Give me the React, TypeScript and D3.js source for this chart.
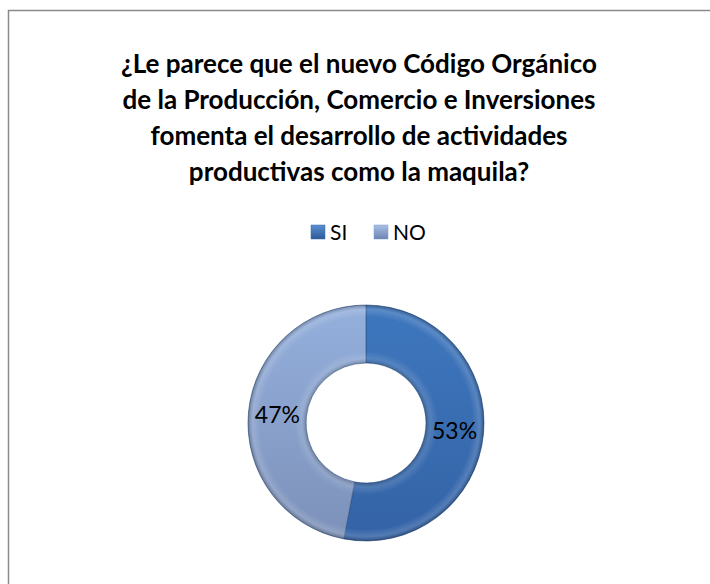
import React from "react";
import * as d3 from "d3";

const categories = ["SI", "NO"];
const values = [53, 47];
const titleLines = [
  "¿Le parece que el nuevo Código Orgánico",
  "de la Producción, Comercio e Inversiones",
  "fomenta el desarrollo de actividades",
  "productivas como la maquila?",
];

const W = 710;
const H = 584;
const cx = 366;
const cy = 423;
const outerR = 118;
const innerR = 60;
const FONT = "Lato, 'Open Sans', sans-serif";

export default function App() {
  const pie = d3.pie<number>().sort(null).value((d) => d)(values);
  const arc = d3.arc<d3.PieArcDatum<number>>().innerRadius(innerR).outerRadius(outerR);
  const labelArc = d3.arc<d3.PieArcDatum<number>>().innerRadius(89).outerRadius(89);
  const fills = ["url(#gSI)", "url(#gNO)"];
  const legendColors = ["#3a6db0", "#7f9ccf"];
  const legendX = [311, 374];

  return (
    <svg width={W} height={H} style={{ position: "absolute", left: 0, top: 0, background: "#fff" }}>
      <defs>
        <linearGradient id="gSI" x1="0" y1="0" x2="0" y2="1">
          <stop offset="0" stopColor="#3e77be" />
          <stop offset="1" stopColor="#3463a6" />
        </linearGradient>
        <linearGradient id="gNO" x1="0" y1="0" x2="0" y2="1">
          <stop offset="0" stopColor="#94b0dd" />
          <stop offset="1" stopColor="#7d91b9" />
        </linearGradient>
        <radialGradient id="bevel" cx={cx} cy={cy} r={outerR} gradientUnits="userSpaceOnUse">
          <stop offset="0.5" stopColor="#000" stopOpacity="0.28" />
          <stop offset="0.55" stopColor="#fff" stopOpacity="0.12" />
          <stop offset="0.61" stopColor="#fff" stopOpacity="0" />
          <stop offset="0.9" stopColor="#fff" stopOpacity="0" />
          <stop offset="0.96" stopColor="#fff" stopOpacity="0.15" />
          <stop offset="1" stopColor="#000" stopOpacity="0.25" />
        </radialGradient>
        <linearGradient id="legSI" x1="0" y1="0" x2="0" y2="1">
          <stop offset="0" stopColor="#5b8fd0" />
          <stop offset="1" stopColor="#2c5a98" />
        </linearGradient>
        <linearGradient id="legNO" x1="0" y1="0" x2="0" y2="1">
          <stop offset="0" stopColor="#a9c0e6" />
          <stop offset="1" stopColor="#6c84b0" />
        </linearGradient>
      </defs>
      <rect x={8.5} y={10.5} width={720} height={600} fill="#fff" stroke="#8a8a8a" strokeWidth={1.5} />
      {titleLines.map((t, i) => (
        <text
          key={i}
          x={359}
          y={73 + i * 36}
          textAnchor="middle"
          fontFamily={FONT}
          fontWeight="bold"
          fontSize={26}
          fill="#000"
        >
          {t}
        </text>
      ))}
      {categories.map((c, i) => (
        <g key={c}>
          <rect x={legendX[i]} y={225} width={14} height={14} fill={i === 0 ? "url(#legSI)" : "url(#legNO)"} stroke={legendColors[i]} strokeWidth={0.5} />
          <text x={legendX[i] + 19} y={239.5} fontFamily={FONT} fontSize={21} fill="#000">
            {c}
          </text>
        </g>
      ))}
      <g transform={`translate(${cx},${cy})`}>
        {pie.map((p, i) => (
          <path key={i} d={arc(p) || ""} fill={fills[i]} stroke="#2a4d80" strokeWidth={0.6} />
        ))}
      </g>
      <circle cx={cx} cy={cy} r={(outerR + innerR) / 2} fill="none" stroke="url(#bevel)" strokeWidth={outerR - innerR} />
      <g transform={`translate(${cx},${cy})`}>
        {pie.map((p, i) => {
          const [lx, ly] = labelArc.centroid(p);
          return (
            <text
              key={i}
              x={lx}
              y={ly}
              dy="0.35em"
              textAnchor="middle"
              fontFamily={FONT}
              fontSize={23}
              fill="#000"
            >
              {values[i]}%
            </text>
          );
        })}
      </g>
    </svg>
  );
}
